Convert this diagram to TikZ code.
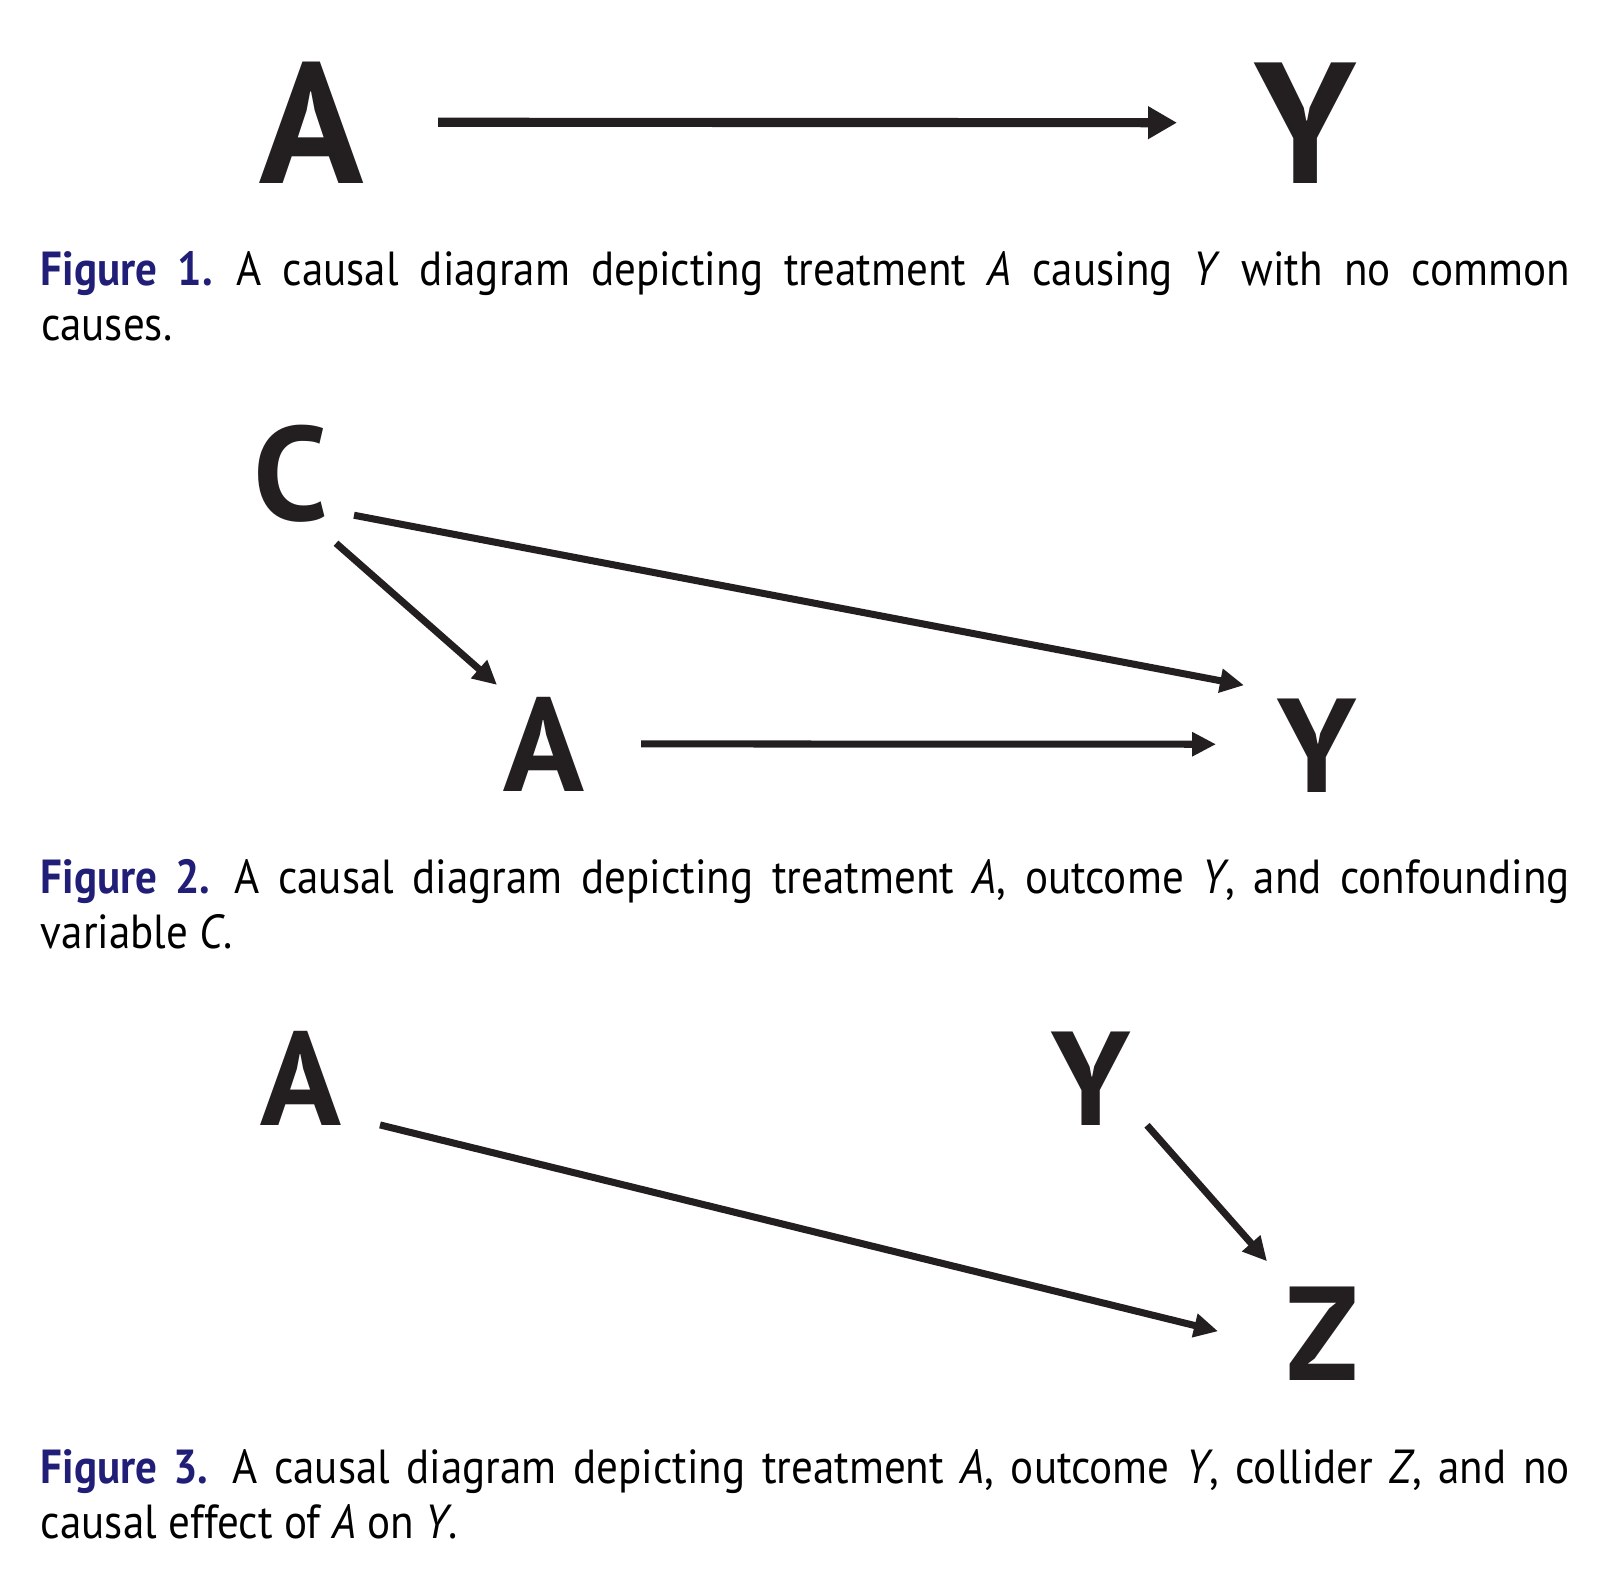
\documentclass[tikz,border=0pt]{standalone}
\usepackage{fontspec}
\setmainfont{PT Sans}
\newfontfamily\capfont[FakeStretch=0.9]{PT Sans}
\usetikzlibrary{arrows.meta}
\definecolor{capblue}{RGB}{33,30,120}
\definecolor{ink}{RGB}{35,31,32}
\newcommand{\figlabel}[1]{{\bfseries\color{capblue}Figure #1.}\hspace{0.5em}}

\begin{document}
\begin{tikzpicture}[x=0.01cm, y=-0.01cm,
                    every node/.style={inner sep=0pt, outer sep=0pt},
                    var/.style={anchor=base, text=ink, font=\fontsize{38pt}{38pt}\selectfont\bfseries},
                    bigvar/.style={var, font=\fontsize{49pt}{49pt}\selectfont\bfseries},
                    edge/.style={draw=ink, line width=2pt, -{Triangle[length=0.24cm, width=0.23cm]}},
                    bigedge/.style={edge, line width=2.6pt, -{Triangle[length=0.29cm, width=0.31cm]}},
                    caption/.style={anchor=base west, text width=15.28cm, align=justify,
                                    font=\capfont\fontsize{13.6pt}{15.65pt}\selectfont},
                ]
                \useasboundingbox (0,0) rectangle (1601,1578);
                % figure 1
                \node[bigvar] (A1) at (312,183) {A};
                \node[bigvar] (Y1) at (1305,183) {Y};
                \draw[bigedge] ([shift={(126,0)}]A1.center) -- ([shift={(-128,0)}]Y1.center);
                \node[caption] (cap1) at (41,285) {\figlabel{1}A causal diagram depicting treatment \textit{A} causing \textit{Y} with no common\linebreak causes.};
                % figure 2
                \node[var] (C2) at (291,520) {C};
                \node[var] (A2) at (544,791) {A};
                \node[var] (Y2) at (1317,792) {Y};
                \draw[edge] ([shift={(45,70)}]C2.center) -- ([shift={(-47,-59)}]A2.center);
                \draw[edge] ([shift={(63,42)}]C2.center) -- ([shift={(-73,-60)}]Y2.center);
                \draw[edge] ([shift={(97,0)}]A2.center) -- ([shift={(-101,-1)}]Y2.center);
                \node[caption] (cap2) at (41,893) {\figlabel{2}A causal diagram depicting treatment \textit{A}, outcome \textit{Y}, and confounding\linebreak variable \textit{C}.};
                % figure 3
                \node[var] (A3) at (301,1125) {A};
                \node[var] (Y3) at (1091,1125) {Y};
                \node[var] (Z3) at (1322,1380) {Z};
                \draw[edge] ([shift={(79,47)}]A3.center) -- ([shift={(-104,-2)}]Z3.center);
                \draw[edge] ([shift={(56,47)}]Y3.center) -- ([shift={(-55,-72)}]Z3.center);
                \node[caption] (cap3) at (41,1483) {\figlabel{3}A causal diagram depicting treatment \textit{A}, outcome \textit{Y}, collider \textit{Z}, and no\linebreak causal effect of \textit{A} on \textit{Y}.};
\end{tikzpicture}
\end{document}
